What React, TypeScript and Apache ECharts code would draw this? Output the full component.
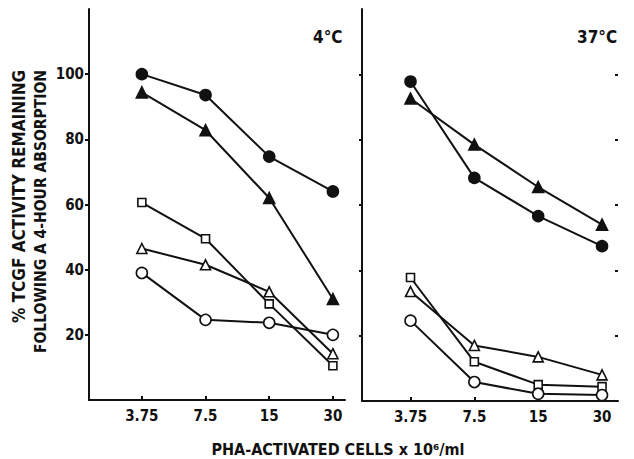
import React, { useEffect, useRef } from 'react';
import * as echarts from 'echarts';

const categories = ['3.75', '7.5', '15', '30'];
const yTickValues = [20, 40, 60, 80, 100];
const xIndexValues = [0, 1, 2, 3];

// 4°C panel
const cold_filledCircle = [100, 93.6, 74.7, 64];
const cold_filledTriangle = [94.4, 82.8, 62, 31];
const cold_openSquare = [60.6, 49.5, 29.5, 10.5];
const cold_openTriangle = [46.5, 41.5, 33.2, 14.2];
const cold_openCircle = [39, 24.6, 23.7, 20];

// 37°C panel
const warm_filledCircle = [97.8, 68.3, 56.6, 47.4];
const warm_filledTriangle = [92.6, 78.5, 65.5, 54];
const warm_openSquare = [37.8, 12, 5, 4.4];
const warm_openTriangle = [33.5, 17, 13.5, 8];
const warm_openCircle = [24.6, 5.8, 2.2, 1.8];

const panelTitles = ['4°C', '37°C'];
const yTitle1 = '% TCGF ACTIVITY REMAINING';
const yTitle2 = 'FOLLOWING A 4-HOUR ABSORPTION';
const xTitle = 'PHA-ACTIVATED CELLS x 10⁶/ml';

const FONT = "'Liberation Sans Narrow', 'DejaVu Sans Condensed', 'Liberation Sans', sans-serif";
const INK = '#111';

export default function App() {
  const ref = useRef<HTMLDivElement>(null);
  useEffect(() => {
    document.body.style.margin = '0';
    const chart = echarts.init(ref.current!, null, { renderer: 'svg' });

    const toPairs = (vals: number[]) => vals.map((v, i) => [i, v]);

    const markerDefs = [
      { symbol: 'circle', size: 11, fill: INK },
      { symbol: 'triangle', size: 11, fill: INK },
      { symbol: 'rect', size: 8, fill: '#fff' },
      { symbol: 'triangle', size: 10, fill: '#fff' },
      { symbol: 'circle', size: 11, fill: '#fff' },
    ];
    const panels = [
      [cold_filledCircle, cold_filledTriangle, cold_openSquare, cold_openTriangle, cold_openCircle],
      [warm_filledCircle, warm_filledTriangle, warm_openSquare, warm_openTriangle, warm_openCircle],
    ];

    const series: any[] = [];
    panels.forEach((panel, p) => {
      panel.forEach((vals, s) => {
        const m = markerDefs[s];
        series.push({
          type: 'line',
          xAxisIndex: p,
          yAxisIndex: p === 0 ? 0 : 1,
          data: toPairs(vals),
          symbol: m.symbol,
          symbolSize: m.size,
          lineStyle: { color: INK, width: 2 },
          itemStyle: { color: m.fill, borderColor: INK, borderWidth: 1.6 },
          z: 3,
        });
      });
    });

    const xAxisBase = (min: number, max: number, gridIndex: number) => ({
      type: 'value',
      gridIndex,
      min,
      max,
      splitLine: { show: false },
      axisLine: { show: true, onZero: false, lineStyle: { color: INK, width: 2 } },
      axisTick: {
        show: true,
        inside: true,
        length: 4,
        customValues: xIndexValues,
        lineStyle: { color: INK, width: 2 },
      },
      axisLabel: {
        show: true,
        customValues: xIndexValues,
        formatter: (v: number) => categories[Math.round(v)] ?? '',
        color: INK,
        fontFamily: FONT,
        fontWeight: 'bold',
        fontSize: 15,
        margin: 8,
      },
    });

    const option: any = {
      animation: false,
      backgroundColor: '#fff',
      grid: [
        { left: 89, top: 9, width: 256, height: 391 },
        { left: 362, top: 9, width: 256, height: 392 },
      ],
      xAxis: [xAxisBase(-0.83, 3.19, 0), xAxisBase(-0.76, 3.25, 1)],
      yAxis: [
        {
          type: 'value',
          gridIndex: 0,
          min: 0,
          max: 120,
          splitLine: { show: false },
          axisLine: { show: true, onZero: false, lineStyle: { color: INK, width: 2 } },
          axisTick: {
            show: true,
            length: 4,
            customValues: yTickValues,
            lineStyle: { color: INK, width: 2 },
          },
          axisLabel: {
            show: true,
            customValues: yTickValues,
            color: INK,
            fontFamily: FONT,
            fontWeight: 'bold',
            fontSize: 15,
            margin: 5,
          },
        },
        {
          type: 'value',
          gridIndex: 1,
          min: 0,
          max: 120,
          splitLine: { show: false },
          axisLine: { show: true, onZero: false, lineStyle: { color: INK, width: 2 } },
          axisTick: {
            show: true,
            length: 3,
            customValues: yTickValues,
            lineStyle: { color: INK, width: 2 },
          },
          axisLabel: { show: false },
        },
        {
          type: 'value',
          gridIndex: 1,
          min: 0,
          max: 120,
          splitLine: { show: false },
          axisLine: { show: false, onZero: false },
          axisTick: {
            show: true,
            inside: true,
            length: 3,
            customValues: yTickValues,
            lineStyle: { color: INK, width: 2 },
          },
          axisLabel: { show: false },
        },
      ],
      graphic: [
        {
          type: 'text',
          left: 313,
          top: 28,
          style: { text: panelTitles[0], fill: INK, font: `bold 17px ${FONT}` },
        },
        {
          type: 'text',
          left: 577,
          top: 28,
          style: { text: panelTitles[1], fill: INK, font: `bold 17px ${FONT}` },
        },
        {
          type: 'text',
          x: 19,
          y: 70,
          rotation: Math.PI / 2,
          style: {
            text: yTitle1,
            fill: INK,
            font: `bold 17px ${FONT}`,
            align: 'right',
            verticalAlign: 'middle',
          },
        },
        {
          type: 'text',
          x: 41,
          y: 70,
          rotation: Math.PI / 2,
          style: {
            text: yTitle2,
            fill: INK,
            font: `bold 15.5px ${FONT}`,
            align: 'right',
            verticalAlign: 'middle',
          },
        },
        {
          type: 'text',
          x: 338,
          y: 449,
          style: {
            text: xTitle,
            fill: INK,
            font: `bold 16px ${FONT}`,
            align: 'center',
            verticalAlign: 'middle',
          },
        },
      ],
      series,
    };
    chart.setOption(option);
    return () => chart.dispose();
  }, []);
  return <div ref={ref} style={{ width: 634, height: 459 }} />;
}
